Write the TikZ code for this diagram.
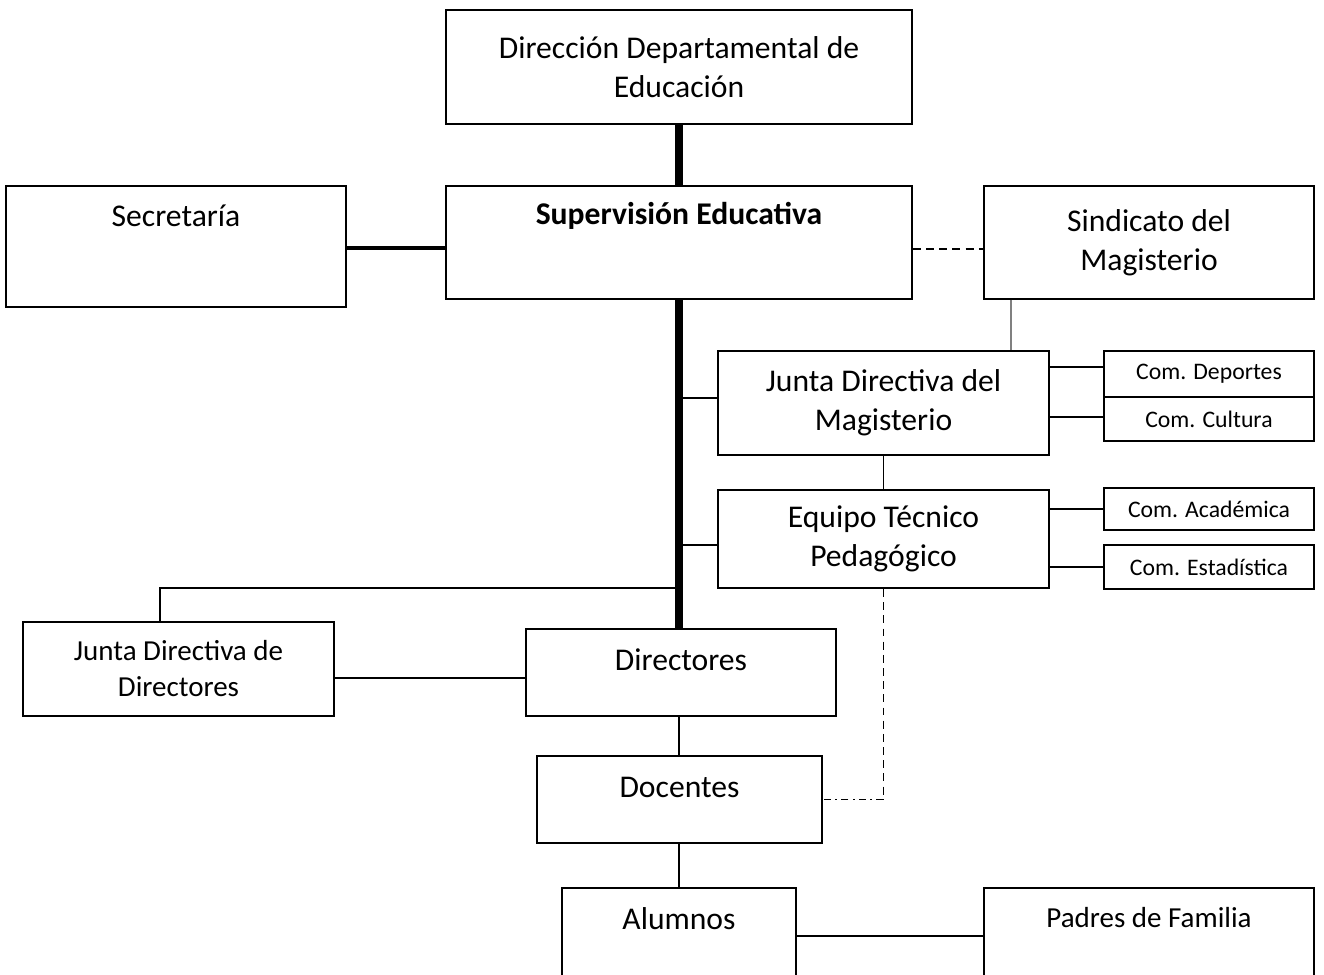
\documentclass[tikz,border=0pt]{standalone}
\usepackage{fontspec}
\setmainfont{Carlito}
\usetikzlibrary{positioning, calc}

\begin{document}
\begin{tikzpicture}[
        x=0.02cm, y=-0.02cm,
        font=\fontsize{18}{22}\selectfont,
        % estilos de las cajas
        box/.style={rectangle, draw=black, line width=1.1pt, align=center, inner sep=0pt},
        combox/.style={box, minimum width=4.2cm, font=\fontsize{13.5}{16}\selectfont},
        boxtext/.style={inner sep=0pt, align=center},
        % estilos de las lineas
        trunk/.style={line width=4pt},
        link/.style={line width=1.1pt},
        thinlink/.style={line width=1pt, gray},
        dashlink/.style={link, dash pattern=on 4.5pt off 3pt},
        dotlink/.style={link, dash pattern=on 4pt off 2.5pt on 1pt off 2.5pt}
    ]

    \useasboundingbox (0,0) rectangle (1324,974);

    % --- cajas ---
    \node[box, minimum width=9.32cm, minimum height=2.28cm] (dde) at (679,67) {Dirección Departamental de\\Educación};
    \node[box, minimum width=6.8cm, minimum height=2.42cm] (sec) at (176,246.5) {};
    \node[box, minimum width=9.32cm, minimum height=2.26cm] (sup) at (679,242.5) {};
    \node[box, minimum width=6.6cm, minimum height=2.26cm] (sind) at (1149,242.5) {Sindicato del\\Magisterio};

    \node[box, minimum width=6.62cm, minimum height=2.08cm] (jdm) at (883.5,403) {Junta Directiva del\\Magisterio};
    \node[combox, minimum height=0.92cm] (cdep) at (1209,374) {Com. Deportes};
    \node[combox, minimum height=0.88cm] (ccul) at (1209,419) {Com. Cultura};

    \node[box, minimum width=6.62cm, minimum height=1.96cm] (etp) at (883.5,539) {Equipo Técnico\\Pedagógico};
    \node[combox, minimum height=0.84cm] (caca) at (1209,509) {Com. Académica};
    \node[combox, minimum height=0.88cm] (cest) at (1209,567) {Com. Estadística};

    \node[box, minimum width=6.22cm, minimum height=1.88cm, font=\fontsize{16.5}{20.5}\selectfont] (jdd) at (178.5,669) {Junta Directiva de\\Directores};
    \node[box, minimum width=6.2cm, minimum height=1.74cm] (dir) at (681,672.5) {};
    \node[box, minimum width=5.7cm, minimum height=1.74cm] (doc) at (679.5,799.5) {};
    \node[box, minimum width=4.68cm, minimum height=1.92cm] (alu) at (679,936) {};
    \node[box, minimum width=6.6cm, minimum height=1.92cm] (pad) at (1149,936) {};

    % --- textos arriba en las cajas ---
    \node[boxtext] (sec-t) at ([yshift=-0.62cm]sec.north) {Secretaría};
    \node[boxtext, font=\fontsize{18}{22}\selectfont\bfseries] (sup-t) at ([yshift=-0.62cm]sup.north) {Supervisión Educativa};
    \node[boxtext] (dir-t) at ([yshift=-0.64cm]dir.north) {Directores};
    \node[boxtext] (doc-t) at ([yshift=-0.64cm]doc.north) {Docentes};
    \node[boxtext] (alu-t) at ([yshift=-0.64cm]alu.north) {Alumnos};
    \node[boxtext, font=\fontsize{16.5}{20}\selectfont] (pad-t) at ([yshift=-0.6cm]pad.north) {Padres de Familia};

    \coordinate (split) at (sup.south |- 0,588);
    \coordinate (corner) at (etp.south |- doc.east);

    % --- linea principal ---
    \draw[trunk] (dde) -- (sup);
    \draw[trunk] (sup.south) -- (sup.south |- dir.north);
    \draw[line width=2.4pt] ([yshift=-0.03cm]sec.east) -- ([yshift=-0.03cm]sec.east -| sup.west);
    \draw[dashlink] ([yshift=-0.13cm]sup.east) -- ([yshift=-0.13cm]sind.west);
    \draw[thinlink] ([xshift=0.56cm]sind.south west) -- ([xshift=0.56cm]sind.south west |- jdm.north);

    % --- ramas a la derecha ---
    \draw[link] ([yshift=0.1cm]jdm.west) -- ([yshift=0.1cm]jdm.west -| sup.south);
    \draw[link] ([yshift=-0.12cm]etp.west) -- ([yshift=-0.12cm]etp.west -| sup.south);
    \draw[link] (jdm) -- (etp);
    \draw[link] ([yshift=0.14cm]cdep.west) -- ([yshift=0.14cm]cdep.west -| jdm.east);
    \draw[link] ([yshift=0.04cm]ccul.west) -- ([yshift=0.04cm]ccul.west -| jdm.east);
    \draw[link] (caca.west) -- (caca.west -| etp.east);
    \draw[link] (cest.west) -- (cest.west -| etp.east);

    % --- parte de abajo ---
    \draw[link] (split) -| ([xshift=-0.37cm]jdd.north);
    \draw[link] ([yshift=-0.18cm]jdd.east) -- ([yshift=-0.18cm]jdd.east -| dir.west);
    \draw[link] (dir.south -| sup.south) -- (doc.north -| sup.south);
    \draw[link] (doc.south -| sup.south) -- (alu.north -| sup.south);
    \draw[link] (alu.east) -- (pad.west);
    \draw[dashlink] (etp.south) -- (corner);
    \draw[dotlink] (corner) -- (doc.east);

\end{tikzpicture}
\end{document}
